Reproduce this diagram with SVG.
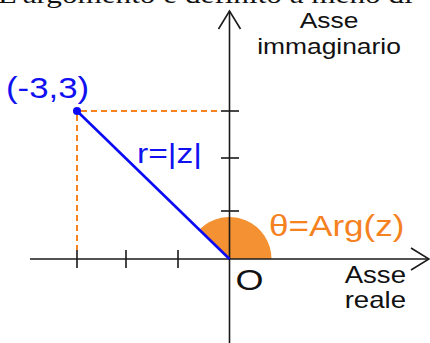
<svg xmlns="http://www.w3.org/2000/svg" width="430" height="343" viewBox="0 0 430 343">
<style>
  .sans { font-family: "Liberation Sans", Arial, sans-serif; }
  .axis { stroke: #1a1a1a; stroke-width: 1.6; fill: none; }
  .tick { stroke: #1a1a1a; stroke-width: 1.6; }
  .dash { stroke: #f5821f; stroke-width: 2; stroke-dasharray: 6 4; fill: none; }
  .blue { fill: #1010f0; }
  .orange { fill: #f5821f; }
  .black { fill: #111; }
</style>
<defs>
  <marker id="arrow" markerUnits="userSpaceOnUse" markerWidth="22" markerHeight="26" refX="19" refY="12" orient="auto">
    <path d="M1,1 L19,12 L1,23" fill="none" stroke="#1a1a1a" stroke-width="1.6"/>
  </marker>
</defs>
<rect width="430" height="343" fill="#ffffff"/>

<g id="caption">
  <text transform="translate(-2,3) scale(1.2,1)" font-family="'Liberation Serif', 'Times New Roman', serif" font-size="26" fill="#111">L'argomento è definito a meno di</text>
</g>

<g id="angle-sector">
  <path d="M229.5,259 L271.5,259 A42,42 0 0 0 199.8,229.3 Z" fill="#f39133"/>
</g>

<g id="connectors">
  <line class="axis" x1="30" y1="259" x2="429" y2="259" marker-end="url(#arrow)"/>
  <line class="axis" x1="229.5" y1="343" x2="229.5" y2="11" marker-end="url(#arrow)"/>
  <line class="dash" x1="81" y1="111" x2="221" y2="111"/>
  <line class="dash" x1="77" y1="115" x2="77" y2="250"/>
  <line x1="77" y1="111" x2="229.5" y2="259" stroke="#0a0af5" stroke-width="2.6"/>
</g>

<g id="ticks">
  <line class="tick" x1="77" y1="250" x2="77" y2="268"/>
  <line class="tick" x1="126" y1="250" x2="126" y2="268"/>
  <line class="tick" x1="178" y1="250" x2="178" y2="268"/>
  <line class="tick" x1="221" y1="211" x2="239" y2="211"/>
  <line class="tick" x1="221" y1="158" x2="239" y2="158"/>
  <line class="tick" x1="221" y1="111" x2="239" y2="111"/>
</g>

<g id="point">
  <circle cx="77" cy="111" r="4" fill="#0a0af5"/>
  <text class="sans blue" transform="translate(6,98) scale(1.2,1)" font-size="29">(-3,3)</text>
</g>

<g id="modulus-label">
  <text class="sans blue" transform="translate(137,163) scale(1.2,1)" font-size="28">r=|z|</text>
</g>

<g id="arg-label">
  <text class="sans orange" transform="translate(269,236) scale(1.17,1)" font-size="30">θ=Arg(z)</text>
</g>

<g id="origin-label">
  <text class="sans black" transform="translate(235.5,290) scale(1.2,1)" font-size="30">O</text>
</g>

<g id="imag-axis-label">
  <text class="sans black" transform="translate(329,28) scale(1.2,1)" font-size="22" text-anchor="middle">Asse</text>
  <text class="sans black" transform="translate(329,54) scale(1.2,1)" font-size="22" text-anchor="middle">immaginario</text>
</g>

<g id="real-axis-label">
  <text class="sans black" transform="translate(406,283) scale(1.2,1)" font-size="23" text-anchor="end">Asse</text>
  <text class="sans black" transform="translate(406,308) scale(1.2,1)" font-size="23" text-anchor="end">reale</text>
</g>
</svg>
